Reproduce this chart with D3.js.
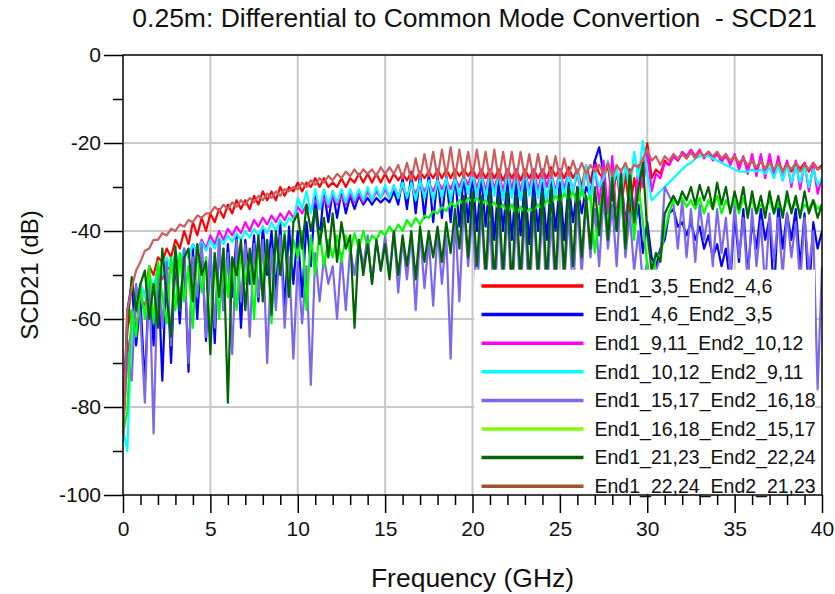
<!DOCTYPE html>
<html>
<head>
<meta charset="utf-8">
<script src="https://cdn.jsdelivr.net/npm/d3@7"></script>
<style>
  body { margin: 0; background: #fff; }
  svg { font-family: "Liberation Sans", Arial, sans-serif; }
</style>
</head>
<body>
<div id="chart"></div>
<script>
// frequency grid (GHz), one sample every 0.25 GHz
var freq = d3.range(161).map(function(i) { return i * 0.25; });

var seriesNames = [
    "End1_3,5_End2_4,6",
    "End1_4,6_End2_3,5",
    "End1_9,11_End2_10,12",
    "End1_10,12_End2_9,11",
    "End1_15,17_End2_16,18",
    "End1_16,18_End2_15,17",
    "End1_21,23_End2_22,24",
    "End1_22,24_End2_21,23"
];
var lineColors   = ["#ff0000", "#0000ff", "#ff00ff", "#00ffff", "#7b68ee", "#00ff00", "#006400", "#cd5c5c"];
var legendColors = ["#ff0000", "#0000ff", "#ff00ff", "#00ffff", "#7b68ee", "#80ff00", "#006400", "#a0522d"];

var xTicks = [0, 5, 10, 15, 20, 25, 30, 35, 40];
var yTicks = [0, -20, -40, -60, -80, -100];

// SCD21 in dB
var scdRed = [
 -84, -62, -58, -64, -52, -55, -48, -50, -46, -47,
 -44, -46, -42, -44, -40, -43, -38, -41, -37, -40,
 -36, -38, -35, -37, -34, -36, -33, -35, -33, -35,
 -32, -34, -31, -33, -31, -33, -30, -32, -30, -31,
 -29, -31, -29, -30, -28, -30, -28, -30, -29, -30,
 -28, -30, -28, -29, -27, -29, -27, -29, -27, -29,
 -27, -29, -27, -28.5, -27, -28.5, -26.5, -28.5, -26.5, -28,
 -26.5, -28, -26, -28, -26, -28, -26, -27.5, -26, -27.5,
 -26, -28, -26, -28, -26, -28, -26, -28.5, -26, -28,
 -26, -28.5, -26, -28, -26, -28, -26, -28, -25.5, -27.5,
 -26, -28, -25.5, -28, -26, -30, -25, -29, -24, -27,
 -28, -25, -33, -26, -35, -27, -36, -28, -33, -26,
 -20, -28, -26, -27, -24, -25, -23, -24, -22.5, -23.5,
 -22, -23.5, -22, -23, -22, -23.5, -22.5, -24, -23, -24.5,
 -23, -25, -23.5, -25.5, -24, -26, -24, -26, -24, -26.5,
 -24, -26.5, -24.5, -26.5, -24.5, -26, -24.5, -26.5, -24.5, -26,
 -25
];

var scdBlue = [
 -85, -58, -52, -66, -56, -75, -50, -66, -48, -74,
 -47, -70, -46, -61, -45, -72, -44, -60, -43, -65,
 -44, -65.5, -42, -58, -43, -55, -41, -62, -42, -52,
 -41, -56, -39, -50, -40, -54, -38, -58, -39, -52,
 -40, -55, -38, -48, -32, -42, -31, -38, -31, -37,
 -31, -36, -32, -35, -32, -34, -32.5, -34, -32.5, -33.5,
 -32.5, -33.5, -31, -34, -28, -35, -27, -36, -27, -37,
 -27, -38, -27.5, -37, -27.5, -38, -27, -39, -27, -38,
 -27, -40, -27.5, -39, -28, -42, -28, -40, -28, -42,
 -28.5, -41, -28, -43, -28.5, -40, -29, -42, -28.5, -40,
 -29, -42, -29, -38, -30, -36, -30, -32, -24, -21,
 -27, -36, -30, -40, -28, -38, -31, -40, -34, -45,
 -38, -46, -48, -44, -42, -36, -35, -39, -38, -41,
 -38, -42, -39, -44, -41, -46, -43, -48, -44, -52,
 -36, -47, -35, -50, -38, -44, -35, -42, -37, -55,
 -34, -44, -36, -42, -35, -48, -36, -55, -38, -44,
 -40
];

var scdMagenta = [
 -86, -68, -62, -58, -55, -57, -52, -54, -50, -51,
 -48, -49, -46, -48, -44, -46, -43, -45, -42, -44,
 -41, -43, -40, -42, -39.5, -41, -39, -40.5, -38, -40,
 -37.5, -39, -37, -38.5, -36.5, -38, -36, -37.5, -35.5, -37,
 -34.5, -36, -34, -35.5, -33, -35, -32.5, -34.5, -32, -34,
 -32, -34, -31.5, -33.5, -31.5, -33.5, -31, -33, -31, -32.5,
 -30.5, -32.5, -30, -32, -30, -32, -29.5, -31.5, -29, -31,
 -29, -31, -28.5, -30.5, -28.5, -30.5, -28, -30, -27.5, -29.5,
 -26.5, -30.5, -26.5, -31, -26, -30.5, -26.5, -31, -26, -30.5,
 -26, -31, -26.5, -30.5, -26, -31, -26, -30, -26.5, -31,
 -26, -30.5, -26.5, -31, -27, -32, -26, -33, -25, -34,
 -24, -36, -23, -38, -26, -40, -28, -36, -25, -30,
 -22, -31, -27, -28, -24.5, -25, -23, -24, -22, -23,
 -21.5, -23, -21.5, -23.5, -22, -24, -22, -24.5, -22.5, -25,
 -22.5, -26, -23, -27, -22.5, -27.5, -22.5, -28, -22.5, -27.5,
 -23, -28.5, -24, -30, -24, -30.5, -24.5, -31, -25, -31.5,
 -28
];

var scdCyan = [
 -85, -90, -62, -56, -52, -55, -50, -53, -48, -50,
 -46, -49, -45, -47, -44, -46, -43, -45, -42.5, -44.5,
 -42, -44, -41.5, -43, -41, -42.5, -40.5, -42, -40, -41.5,
 -39.5, -41, -39, -40.5, -38, -40, -37.5, -39, -37, -38,
 -32.5, -35, -31, -36, -30.5, -35, -30.5, -34, -31, -33.5,
 -30.5, -33.5, -30.5, -33, -30.5, -33, -30, -33, -30, -32.5,
 -29.5, -32.5, -29.5, -32.5, -29, -32.5, -29, -33, -28.5, -32.5,
 -28.5, -33, -28.5, -32.5, -28, -33, -28, -32, -27.5, -31.5,
 -27, -32, -27, -32.5, -26.5, -32, -27, -33, -26.5, -32.5,
 -27, -33, -26.5, -32, -27, -32.5, -27, -33, -27, -32,
 -26.5, -32, -27, -31, -26, -32, -25, -33, -26, -30,
 -28, -24, -30, -26, -32, -25, -31, -22, -28, -19.5,
 -27, -33, -32, -31, -30, -29, -28, -27, -26, -25,
 -24.5, -23.5, -23, -23, -23, -23.5, -24, -24.5, -25, -25.5,
 -26, -26.5, -26.5, -26.5, -26, -26.5, -26, -27, -25.5, -28,
 -25, -28.5, -25, -29, -25.5, -29, -25, -30, -26, -29.5,
 -28
];

var scdPurple = [
 -86, -68, -74, -52, -60, -79, -50, -86, -48, -62,
 -47, -66, -45, -58, -44, -70, -46, -55, -43, -64,
 -44, -62, -42, -58, -45, -68, -42, -56, -43, -64,
 -43, -55, -42, -70, -44, -58, -41, -62, -46, -69,
 -47, -61, -48, -75, -45, -56, -46, -52, -48, -60,
 -45, -58, -44, -50, -42, -48, -41, -52, -42, -49,
 -41, -50, -40, -54, -42, -51, -41, -58, -40, -53,
 -42, -57, -40, -52, -41, -69, -36, -56, -34, -48,
 -36, -56, -35, -52, -38, -58, -36, -54, -35, -57,
 -37, -55, -36, -58, -35, -53, -36, -56, -37, -54,
 -35, -52, -36, -55, -34, -50, -33, -46, -35, -48,
 -32, -44, -34, -48, -30, -46, -36, -49, -40, -52,
 -47, -55, -49, -46, -30, -32, -34, -44, -33, -46,
 -35, -47, -34, -42, -36, -48, -35, -45, -37, -50,
 -34, -46, -37, -52, -35, -48, -38, -53, -36, -47,
 -37, -50, -36, -46, -38, -52, -37, -49, -40, -76,
 -48
];

var scdLime = [
 -86, -81, -58, -64, -53, -60, -48, -61, -47, -55,
 -61, -46, -58, -45, -56, -48, -62, -44, -54, -46,
 -65.5, -45, -60, -44, -55, -46, -58, -44, -52, -45,
 -60, -43, -52, -42, -61, -41, -50, -40, -55, -42,
 -46, -40, -58, -41, -50, -40, -48, -42, -46, -41,
 -47, -41, -45, -40.5, -44, -40, -43.5, -41, -42, -40,
 -41, -39, -40.5, -38.5, -40, -37.5, -39, -37, -38.5, -36.5,
 -37, -35.5, -36, -34.5, -35.5, -33.5, -34.5, -33, -34, -32.5,
 -33.5, -32.5, -34, -33, -34.5, -33.5, -35, -34, -36, -34,
 -36.5, -34.5, -36, -35, -35.5, -34, -35, -33, -34, -32,
 -33.5, -31.5, -33, -31, -34, -30.5, -33, -32, -45, -36,
 -30, -40, -28, -38, -32, -44, -27, -42, -30, -38,
 -48, -55, -45, -46, -40, -36, -33, -34, -32.5, -34.5,
 -33, -35, -32.5, -36, -33, -35, -32, -36, -33, -35,
 -33, -36, -32.5, -35.5, -33, -36, -34, -35, -33, -36,
 -34, -35.5, -33, -35, -33.5, -36, -34, -35, -33, -35,
 -34
];

var scdDarkGreen = [
 -86, -62, -50.5, -58, -52, -49, -60, -52, -62, -44,
 -55, -64, -43.5, -58, -46, -44, -56, -43, -50, -47,
 -68, -45, -55, -44, -79, -46, -50, -42, -58, -44,
 -52, -41, -56, -42, -59, -40, -50, -41, -55, -38,
 -36, -44, -34, -40, -35, -43, -37, -46, -36, -47,
 -38, -44, -41, -62, -42, -50, -43, -52, -42, -49,
 -43, -51, -40, -50, -41, -48, -40, -51, -39, -47,
 -40, -46, -39, -47, -38, -45, -35, -44, -32, -46,
 -31, -48, -32, -50, -31, -52, -32, -50, -31, -53,
 -32, -51, -31, -52, -32, -50, -31, -52, -30, -51,
 -31, -50, -30, -48, -30, -46, -32, -44, -30, -41,
 -29, -42, -28, -40, -27, -44, -26, -38, -30, -24.5,
 -40, -49, -45, -47, -36, -34, -32, -34, -31, -33,
 -30, -34, -29.5, -33, -30, -35, -29, -34, -30, -36,
 -31, -35, -30, -37, -31, -36, -32, -37, -31, -36,
 -32, -37, -31, -36, -32, -37, -31, -36, -33, -37,
 -34
];

var scdBrown = [
 -88, -58, -53, -49, -47, -44.5, -44, -42, -42, -40.5,
 -41, -39.5, -40, -38.5, -39, -37.5, -38, -36.5, -37, -36,
 -36, -34.5, -35.5, -34, -35, -33.5, -34.5, -33, -34, -32.5,
 -33.5, -32, -33, -31.5, -32.5, -31, -32, -30.5, -31, -30,
 -30.5, -29, -30, -28.5, -29.5, -28, -29, -27.5, -28.5, -27,
 -28, -26.5, -27.5, -26, -27.5, -26, -27, -26, -27.5, -25.5,
 -27, -25.5, -27, -25, -28, -24.5, -28.5, -23.5, -28, -22.5,
 -27.5, -22, -28, -21.5, -27.5, -21, -28, -21.5, -28, -22,
 -27.5, -21.5, -28, -22, -28.5, -21.5, -28.5, -22, -28, -22,
 -28.5, -22, -28, -22.5, -28.5, -22.5, -28, -23, -28, -23,
 -28, -23.5, -27.5, -24, -27, -24.5, -27, -25, -26.5, -25,
 -27, -24.5, -27.5, -25, -26.5, -24.5, -27, -25, -25.5, -23.5,
 -21.5, -24, -23, -25, -23, -24, -22.5, -23.5, -22.5, -23.5,
 -22, -23.5, -22, -23, -22, -23, -22, -23.5, -22.5, -24,
 -23, -24.5, -23.5, -25, -24, -25.5, -24, -26, -24.5, -26,
 -24.5, -26.5, -25, -26, -24.5, -26.5, -25, -26, -24.5, -26,
 -25.5
];

var allSeries = [scdRed, scdBlue, scdMagenta, scdCyan, scdPurple, scdLime, scdDarkGreen, scdBrown];

function DrawChart()
{
    var width = 835, height = 594;
    var margin = {top: 55, left: 123, right: 13, bottom: 99};
    var plotW = width - margin.left - margin.right;
    var plotH = height - margin.top - margin.bottom;

    var svg = d3.select("#chart")
        .append("svg")
        .attr("width", width)
        .attr("height", height);

    var x = d3.scaleLinear().domain([0, 40]).range([0, plotW]);
    var y = d3.scaleLinear().domain([-100, 0]).range([plotH, 0]);

    svg.append("defs").append("clipPath").attr("id", "plotclip")
        .append("rect").attr("width", plotW).attr("height", plotH);

    var g = svg.append("g")
        .attr("transform", "translate(" + margin.left + "," + margin.top + ")");

    // grid
    g.append("g").selectAll("line.vg")
        .data(xTicks.slice(1, -1)).enter().append("line")
        .attr("x1", function(d) { return x(d); })
        .attr("x2", function(d) { return x(d); })
        .attr("y1", 0).attr("y2", plotH)
        .style("stroke", "#c8c8c8").style("stroke-width", 2);
    g.append("g").selectAll("line.hg")
        .data(yTicks.slice(1, -1)).enter().append("line")
        .attr("x1", 0).attr("x2", plotW)
        .attr("y1", function(d) { return y(d); })
        .attr("y2", function(d) { return y(d); })
        .style("stroke", "#c8c8c8").style("stroke-width", 2);

    // curves
    var line = d3.line()
        .x(function(d, i) { return x(freq[i]); })
        .y(function(d) { return y(d); });

    g.append("g").attr("clip-path", "url(#plotclip)")
        .selectAll("path")
        .data(allSeries).enter().append("path")
        .attr("d", line)
        .style("fill", "none")
        .style("stroke", function(d, i) { return lineColors[i]; })
        .style("stroke-width", 2.2)
        .style("stroke-linejoin", "round");

    // legend
    var legend = g.append("g");
    legend.append("rect")
        .attr("x", x(20) + 2).attr("y", y(-48.8))
        .attr("width", x(39.6) - x(20) - 2)
        .attr("height", y(-99.6) - y(-48.8))
        .style("fill", "#fff");
    var rows = legend.selectAll("g.row")
        .data(seriesNames).enter().append("g")
        .attr("transform", function(d, i) {
            return "translate(" + (x(20) + 9) + "," + (y(-52.5) + i * 28.6) + ")";
        });
    rows.append("line")
        .attr("x1", 0).attr("x2", 102).attr("y1", 0).attr("y2", 0)
        .style("stroke", function(d, i) { return legendColors[i]; })
        .style("stroke-width", 3.5);
    rows.append("text")
        .attr("x", 113).attr("y", 0).attr("dy", "0.35em")
        .style("font-size", "19.5px").style("fill", "#111")
        .text(function(d) { return d; });

    // axes box
    g.append("rect").attr("width", plotW).attr("height", plotH)
        .style("fill", "none").style("stroke", "#000").style("stroke-width", 1.5);

    var fmt = function(d) { return String(d); };

    // x axis ticks
    var xAxis = d3.axisBottom(x).tickValues(xTicks).tickSize(18).tickPadding(8).tickFormat(fmt);
    var xg = g.append("g").attr("transform", "translate(0," + plotH + ")").call(xAxis);
    xg.selectAll("text").style("font-size", "21px").style("fill", "#111");
    var xMinor = d3.axisBottom(x).tickValues(d3.range(41).filter(function(v) { return v % 5 != 0; }))
        .tickSize(10).tickFormat("");
    var xmg = g.append("g").attr("transform", "translate(0," + plotH + ")").call(xMinor);

    // y axis ticks
    var yAxis = d3.axisLeft(y).tickValues(yTicks).tickSize(19).tickPadding(3).tickFormat(fmt);
    var yg = g.append("g").call(yAxis);
    yg.selectAll("text").style("font-size", "21px").style("fill", "#111");
    var yMinor = d3.axisLeft(y).tickValues([-10, -30, -50, -70, -90]).tickSize(10).tickFormat("");
    var ymg = g.append("g").call(yMinor);

    [xg, xmg, yg, ymg].forEach(function(a) {
        a.select(".domain").remove();
        a.selectAll("line").style("stroke", "#000").style("stroke-width", 1.5);
        a.attr("font-family", null);
    });

    // titles
    svg.append("text")
        .attr("x", margin.left + plotW / 2 + 2).attr("y", 27)
        .attr("text-anchor", "middle")
        .style("font-size", "26.5px").style("fill", "#111")
        .style("white-space", "pre")
        .text("0.25m: Differential to Common Mode Convertion  - SCD21");

    svg.append("text")
        .attr("x", margin.left + plotW / 2).attr("y", 587)
        .attr("text-anchor", "middle")
        .style("font-size", "26.5px").style("fill", "#111")
        .text("Frequency (GHz)");

    svg.append("text")
        .attr("transform", "translate(38," + (margin.top + plotH / 2) + ") rotate(-90)")
        .attr("text-anchor", "middle")
        .style("font-size", "24px").style("fill", "#111")
        .text("SCD21 (dB)");
}

DrawChart();
</script>
</body>
</html>
